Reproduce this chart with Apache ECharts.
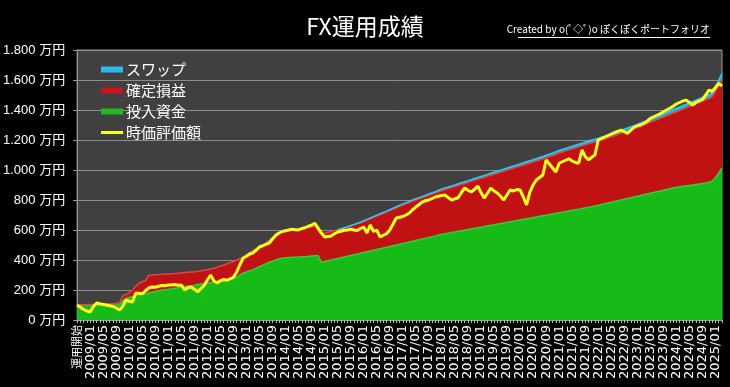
<!DOCTYPE html>
<html><head><meta charset="utf-8">
<script src="https://cdn.jsdelivr.net/npm/echarts@6/dist/echarts.min.js"></script>
<style>html,body{margin:0;padding:0;background:#000;}#c{width:730px;height:387px;}</style>
</head><body><div id="c"></div>
<script>
// Categories: 運用開始, then monthly 2008/10 .. 2025/03
const startLabel = '運用開始';
const firstYear = 2008, firstMonth = 10, lastYear = 2025, lastMonth = 3;
const categories = [startLabel];
for (let y = firstYear, m = firstMonth; y < lastYear || (y === lastYear && m <= lastMonth); ) {
  categories.push(y + '/' + (m < 10 ? '0' + m : m));
  m++; if (m > 12) { m = 1; y++; }
}

const yTicks = [0, 200, 400, 600, 800, 1000, 1200, 1400, 1600, 1800];

// 投入資金 (万円)
const invested = [
100,100,100,100,100,100,100,100,100,100,100,100,100,100,
130,145,150,155,160,165,170,175,180,185,190,195,200,200,
205,208,212,215,218,222,226,229,232,236,240,243,
247,250,253,256,259,262,266,270,275,285,300,313,
320,328,335,345,355,365,375,385,392,400,408,412,
415,416,418,419,420,421,422,424,426,428,430,385,
390,395,400,405,410,415,420,425,430,435,440,445,
450,455,460,465,470,475,480,485,490,495,500,505,
510,515,520,525,530,535,540,545,550,555,560,567,
571,575,579,583,587,591,595,599,603,607,611,615,
619,623,627,631,635,639,643,647,651,655,659,663,
667,671,675,679,683,687,691,695,699,703,707,711,
715,719,723,727,731,735,739,743,747,751,755,760,
765,770,775,780,785,790,795,800,805,810,815,820,
825,830,835,840,845,850,855,860,865,870,875,880,
885,888,891,894,897,900,903,906,910,914,918,925,
950,980,1013
];

// 確定損益 (万円)
const realized = [
0,0,1,2,3,4,4,5,6,7,8,9,10,15,
30,25,30,45,65,80,85,87,118,115,112,108,105,106,
102,101,98,97,96,94,92,91,90,89,88,89,
88,90,92,96,101,105,109,112,115,113,108,107,
115,122,130,133,137,135,140,148,158,165,172,176,
178,182,184,187,190,192,194,195,196,197,197,188,
188,189,190,191,190,191,192,194,197,199,201,203,
208,212,215,219,223,228,231,235,239,244,248,253,
257,260,263,267,270,273,275,278,281,284,286,288,
292,295,298,300,303,306,309,311,314,317,320,323,
325,328,331,334,337,339,342,345,348,351,353,356,
359,362,365,368,370,373,376,379,383,387,390,394,
398,401,404,407,409,412,415,418,421,424,426,427,
428,430,432,434,435,438,441,444,447,449,452,455,
458,462,465,469,473,477,481,484,488,492,496,500,
503,509,515,521,527,532,538,544,549,554,558,564,
573,588,592
];

// スワップ (万円)
const swap = [
'-','-','-','-','-','-','-','-','-','-','-','-','-','-',
'-','-','-','-','-','-','-','-','-','-','-','-','-','-',
'-','-','-','-','-','-','-','-','-','-','-','-',
'-','-','-','-','-','-','-','-','-','-','-','-',
'-','-','-','-','-','-','-','-','-','-','-','-',
'-','-','-','-','-','-','-','-','-','-','-','-',
'-','-','-','-',2,2,3,3,3,3,4,4,
4,4,5,5,5,5,6,6,6,6,7,7,
7,7,8,8,8,8,9,9,9,9,10,10,
10,10,10,11,11,11,11,12,12,12,12,12,
13,13,13,13,13,14,14,14,14,14,15,15,
15,15,15,15,16,16,16,16,16,16,17,17,
17,17,17,17,18,18,18,18,18,18,19,19,
19,19,19,19,20,20,20,20,20,21,21,21,
21,21,22,22,22,22,22,23,23,23,23,23,
24,24,24,24,24,25,25,25,25,25,26,26,
27,32,40
];

// 時価評価額 (万円)
const marketValue = [
100,85,70,60,53,90,113,108,104,100,95,90,80,67,
90,133,125,120,180,178,175,195,213,220,218,225,230,228,
233,233,236,232,233,200,215,220,205,187,210,230,
267,300,260,247,262,270,265,275,285,320,370,413,
425,440,447,465,487,495,505,513,540,565,580,590,
595,600,605,602,600,610,615,625,633,645,610,580,
553,556,560,575,587,592,598,600,605,600,597,610,
620,580,633,590,600,553,565,575,600,640,680,685,
690,700,713,735,753,770,787,795,800,810,820,825,
830,833,815,800,808,815,850,880,865,853,870,893,
850,813,845,880,860,847,825,800,835,867,860,870,
867,820,767,853,900,933,950,967,1067,1040,1013,987,
1045,1055,1065,1075,1060,1050,1045,1133,1090,1067,1085,1100,
1200,1210,1220,1230,1240,1250,1258,1266,1255,1244,1265,1285,
1295,1300,1310,1325,1344,1355,1365,1375,1388,1400,1412,1425,
1440,1450,1460,1466,1450,1433,1450,1460,1470,1500,1533,1525,
1550,1577,1560
];

const FONT = "'Liberation Sans','Noto Sans CJK JP',sans-serif";
const XFONT = "'DejaVu Sans','Noto Sans CJK JP',sans-serif";
const JP = "'Noto Sans CJK JP','Liberation Sans',sans-serif";

function fmtY(v) {
  const s = String(v);
  const t = v >= 1000 ? s.slice(0, s.length - 3) + '.' + s.slice(s.length - 3) : s;
  return t + ' 万円';
}

const chart = echarts.init(document.getElementById('c'), null, {renderer: 'canvas'});
chart.setOption({
  backgroundColor: '#000',
  animation: false,
  title: {
    text: 'FX運用成績', left: 'center', top: 10,
    textStyle: {color: '#fff', fontSize: 23, fontWeight: 'normal', fontFamily: JP}
  },
  graphic: [
    {type: 'text', right: 20, top: 24,
     style: {text: 'Created by o(ﾟ◇ﾟ)o ぽくぽくポートフォリオ', fill: '#fff', font: '10px ' + JP}},
    {type: 'rect', right: 20, top: 37, shape: {width: 192, height: 1}, style: {fill: '#fff'}}
  ],
  legend: {
    orient: 'vertical', left: 96, top: 57,
    itemWidth: 22, itemHeight: 6, itemGap: 6,
    textStyle: {color: '#fff', fontSize: 15, lineHeight: 15, fontFamily: JP, padding: [0, 0, 0, -2]},
    data: [
      {name: 'スワップ', icon: 'rect'},
      {name: '確定損益', icon: 'rect'},
      {name: '投入資金', icon: 'rect'},
      {name: '時価評価額', icon: 'path://M0,0H22V3H0Z'}
    ]
  },
  grid: {left: 77, right: 8, top: 50, bottom: 67, show: true, backgroundColor: '#404040', borderColor: '#9a9a9a', borderWidth: 1},
  xAxis: {
    type: 'category', data: categories, boundaryGap: false,
    axisLine: {lineStyle: {color: '#9a9a9a'}},
    axisTick: {show: true, interval: 0, length: 3, lineStyle: {color: '#bbbbbb'}},
    axisLabel: {
      interval: 3, rotate: 90, color: '#fff', fontSize: 13, lineHeight: 11, fontFamily: XFONT, margin: 5,
      formatter: function (v) { return v === startLabel ? '{a|' + v + '}' : v; },
      rich: {a: {fontSize: 11, lineHeight: 11, fontFamily: JP, color: '#fff'}}
    },
    splitLine: {show: false}
  },
  yAxis: {
    type: 'value', min: yTicks[0], max: yTicks[yTicks.length - 1], interval: 200,
    axisLine: {show: true, lineStyle: {color: '#9a9a9a'}},
    axisTick: {show: true, length: 4, lineStyle: {color: '#9a9a9a'}},
    axisLabel: {color: '#fff', fontSize: 13, fontFamily: FONT, margin: 12, formatter: fmtY},
    splitLine: {lineStyle: {color: '#8c8c8c', width: 1}}
  },
  series: [
    {name: '投入資金', type: 'line', stack: 'total', data: invested, symbol: 'none',
     itemStyle: {color: '#22b822'}, lineStyle: {width: 1.5, color: '#3cc83c'},
     areaStyle: {color: '#17bb17', opacity: 1}, z: 2},
    {name: '確定損益', type: 'line', stack: 'total', data: realized, symbol: 'none',
     itemStyle: {color: '#c8161a'}, lineStyle: {width: 1.5, color: '#d84848'},
     areaStyle: {color: '#c01212', opacity: 1}, z: 2},
    {name: 'スワップ', type: 'line', stack: 'total', data: swap, symbol: 'none',
     itemStyle: {color: '#2cb8ea'}, lineStyle: {width: 1.5, color: '#30c4f4'},
     areaStyle: {color: '#2aaedc', opacity: 1}, z: 2},
    {name: '時価評価額', type: 'line', data: marketValue, symbol: 'none',
     itemStyle: {color: '#ffff1e'}, lineStyle: {width: 3, color: '#ffff1e'}, z: 5}
  ]
});
</script>
</body></html>
